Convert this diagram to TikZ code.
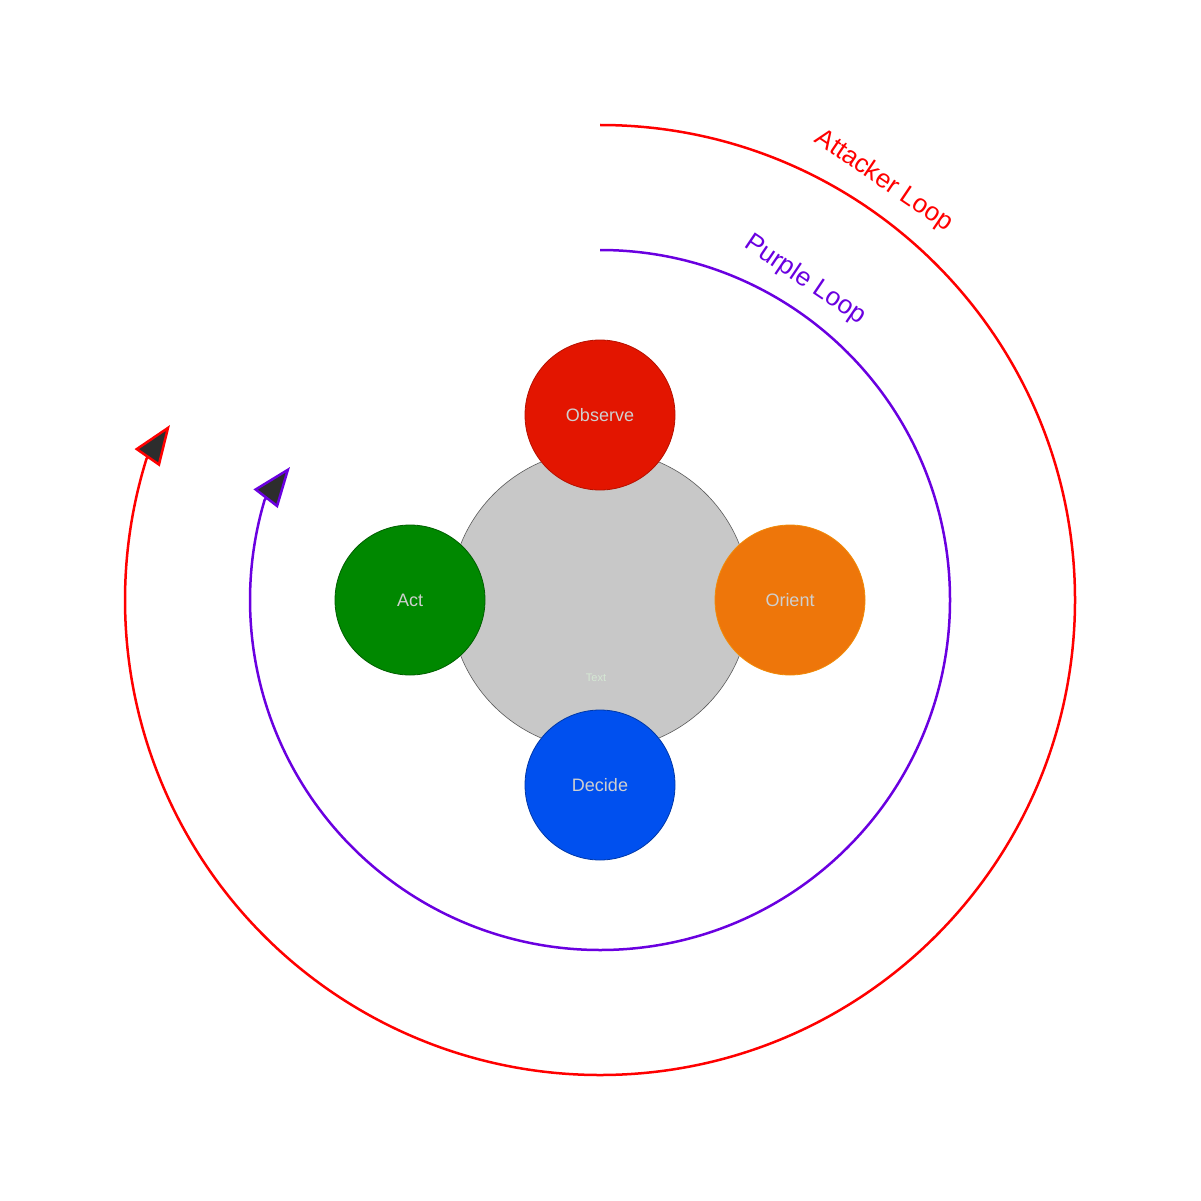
\documentclass[tikz,border=0pt]{standalone}
\usepackage{fontspec}
\setmainfont{Liberation Sans}
\usetikzlibrary{arrows.meta}

\definecolor{obsred}{HTML}{E31500}
\definecolor{orange}{HTML}{EE760A}
\definecolor{actgreen}{HTML}{008800}
\definecolor{decblue}{HTML}{0050EF}
\definecolor{loopred}{HTML}{FF0000}
\definecolor{looppurple}{HTML}{6A00E0}
\definecolor{tipfill}{HTML}{2D2D2D}
\definecolor{phasetext}{HTML}{CFCFCF}

\tikzset{
  phase/.style={circle, minimum size=150pt, inner sep=0pt, line width=0.8pt,
    text=phasetext, font=\fontsize{18}{20}\selectfont},
  loopline/.style={line width=2.5pt,
    -{Triangle[length=40pt,width=30pt,fill=tipfill]}},
  looplabel/.style={font=\fontsize{26}{30}\selectfont, rotate=-34}
}

\begin{document}
\begin{tikzpicture}[x=1pt,y=-1pt]
    \useasboundingbox (0,0) rectangle (1201,1201);

    % Core circle
    \node[circle, minimum size=300pt, inner sep=0pt, fill={rgb,255:red,200;green,200;blue,200},
      draw={rgb,255:red,90;green,90;blue,90}, line width=0.6pt] (core) at (600,600) {};
    \node[text={rgb,255:red,213;green,232;blue,212}, font=\fontsize{11}{12}\selectfont] (coretext) at (596,678) {Text};

    % The four phases
    \node[phase, fill=obsred, draw=obsred!80!black] (observe) at (600,415) {Observe};
    \node[phase, fill=orange, draw=orange!85!yellow] (orient) at (790,600) {Orient};
    \node[phase, fill=decblue, draw=decblue!70!black] (decide) at (600,785) {Decide};
    \node[phase, fill=actgreen, draw=actgreen!70!black] (act) at (410,600) {Act};

    % Loops
    \coordinate (attackstart) at (600,125);
    \coordinate (attacktip) at (170,425);
    \coordinate (purplestart) at (600,250);
    \coordinate (purpletip) at (290,467);
    \draw[loopline, loopred] (attackstart) arc[start angle=-90, end angle=197.3, radius=475] -- (attacktip);
    \draw[loopline, looppurple] (purplestart) arc[start angle=-90, end angle=196.6, radius=350] -- (purpletip);

    \node[looplabel, text=loopred] (attacklabel) at (884,181) {Attacker Loop};
    \node[looplabel, text=looppurple] (purplelabel) at (805,280) {Purple Loop};
\end{tikzpicture}
\end{document}
